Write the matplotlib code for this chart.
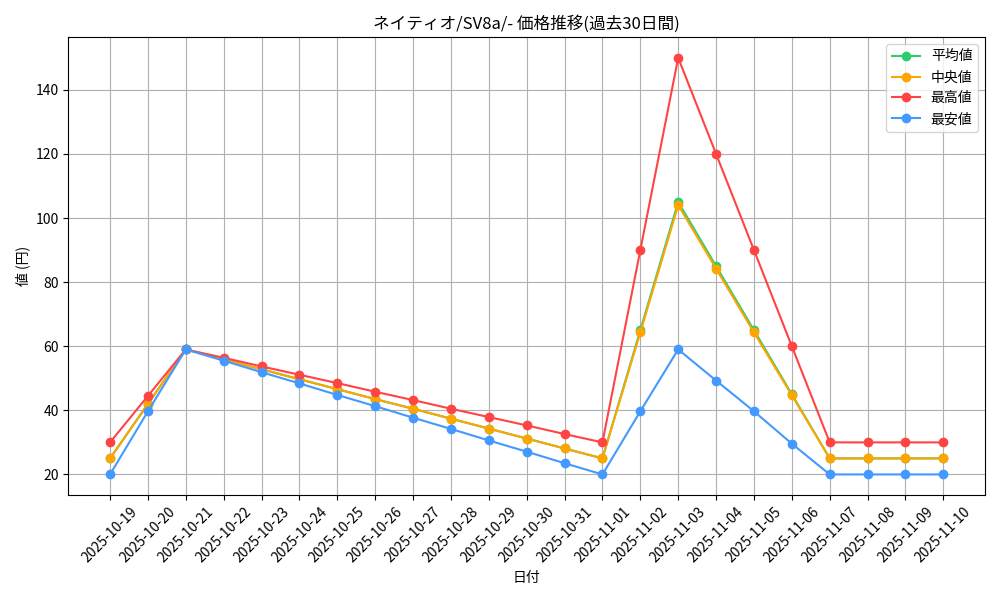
import matplotlib
matplotlib.use("Agg")
import matplotlib.pyplot as plt

plt.rcParams['font.family'] = ['Noto Sans CJK JP', 'DejaVu Sans']

dates = [
    "2025-10-19", "2025-10-20", "2025-10-21", "2025-10-22", "2025-10-23",
    "2025-10-24", "2025-10-25", "2025-10-26", "2025-10-27", "2025-10-28",
    "2025-10-29", "2025-10-30", "2025-10-31", "2025-11-01", "2025-11-02",
    "2025-11-03", "2025-11-04", "2025-11-05", "2025-11-06", "2025-11-07",
    "2025-11-08", "2025-11-09", "2025-11-10",
]

mean_vals = [25, 42, 59, 55.9, 52.8, 49.7, 46.6, 43.5, 40.5, 37.4, 34.3, 31.2,
             28.1, 25, 65, 105, 85, 65, 45, 25, 25, 25, 25]
median_vals = [25, 42, 59, 55.9, 52.8, 49.7, 46.6, 43.5, 40.5, 37.4, 34.3, 31.2,
               28.1, 25, 64.3, 104, 84.2, 64.3, 44.7, 25, 25, 25, 25]
max_vals = [30, 44.5, 59, 56.4, 53.7, 51.1, 48.5, 45.8, 43.2, 40.5, 37.9, 35.3,
            32.6, 30, 90, 150, 120, 90, 60, 30, 30, 30, 30]
min_vals = [20, 39.7, 59, 55.5, 51.9, 48.4, 44.8, 41.3, 37.7, 34.2, 30.6, 27.1,
            23.5, 20, 39.7, 59, 49.3, 39.7, 29.6, 20, 20, 20, 20]

fig, ax = plt.subplots(figsize=(10, 6), dpi=100)

ax.plot(dates, mean_vals, marker="o", color="#2ECC71", label="平均値")
ax.plot(dates, median_vals, marker="o", color="#FFA500", label="中央値")
ax.plot(dates, max_vals, marker="o", color="#FF4444", label="最高値")
ax.plot(dates, min_vals, marker="o", color="#4499FF", label="最安値")

ax.set_title("ネイティオ/SV8a/- 価格推移(過去30日間)")
ax.set_xlabel("日付")
ax.set_ylabel("値 (円)")
ax.grid(True)
ax.legend(loc="upper right")
plt.xticks(rotation=45)

plt.tight_layout()
plt.savefig("out.png")
